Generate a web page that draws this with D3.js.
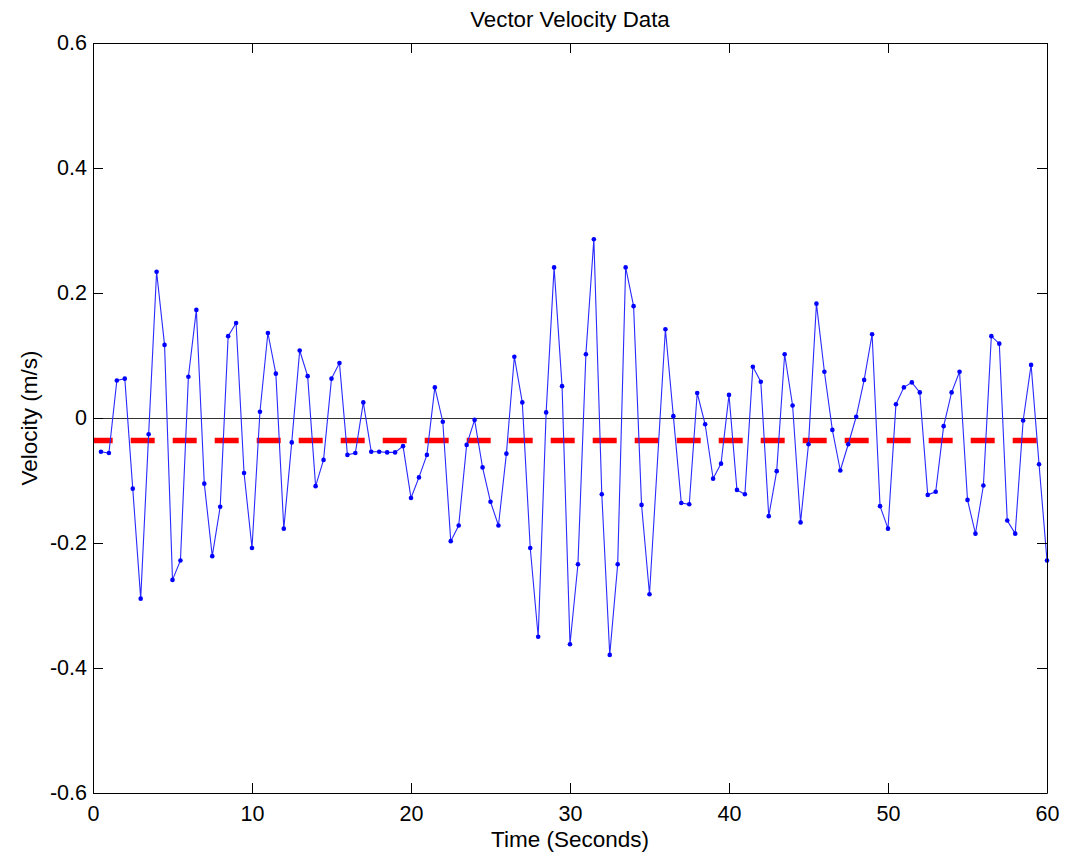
<!DOCTYPE html>
<html>
<head>
<meta charset="utf-8">
<script src="https://cdn.jsdelivr.net/npm/d3@7"></script>
<style>
  body { margin: 0; background: #fff; }
  svg { display: block; font-family: "Liberation Sans", Arial, sans-serif; }
  .axis path, .axis line { stroke: #000; }
</style>
</head>
<body>
<div id="chart"></div>
<script>
// sample times (s) - note there is no sample at 35.5 s in the source
var times = [
  0.5, 1, 1.5, 2, 2.5, 3, 3.5, 4, 4.5, 5, 5.5, 6, 6.5, 7, 7.5, 8, 8.5, 9, 9.5, 10,
  10.5, 11, 11.5, 12, 12.5, 13, 13.5, 14, 14.5, 15, 15.5, 16, 16.5, 17, 17.5, 18, 18.5, 19, 19.5, 20,
  20.5, 21, 21.5, 22, 22.5, 23, 23.5, 24, 24.5, 25, 25.5, 26, 26.5, 27, 27.5, 28, 28.5, 29, 29.5, 30,
  30.5, 31, 31.5, 32, 32.5, 33, 33.5, 34, 34.5, 35, 36, 36.5, 37, 37.5, 38, 38.5, 39, 39.5, 40,
  40.5, 41, 41.5, 42, 42.5, 43, 43.5, 44, 44.5, 45, 45.5, 46, 46.5, 47, 47.5, 48, 48.5, 49, 49.5, 50,
  50.5, 51, 51.5, 52, 52.5, 53, 53.5, 54, 54.5, 55, 55.5, 56, 56.5, 57, 57.5, 58, 58.5, 59, 59.5, 60
];

// velocity (m/s) at each sample
var velocity = [
  -0.054, -0.056, 0.060, 0.063, -0.113, -0.289, -0.026, 0.234, 0.117, -0.259,
  -0.228, 0.066, 0.173, -0.105, -0.221, -0.142, 0.131, 0.152, -0.088, -0.208,
  0.010, 0.136, 0.071, -0.177, -0.039, 0.108, 0.067, -0.109, -0.067, 0.063,
  0.088, -0.059, -0.056, 0.025, -0.054, -0.054, -0.055, -0.055, -0.045, -0.128,
  -0.095, -0.059, 0.049, -0.006, -0.197, -0.172, -0.043, -0.003, -0.079, -0.134,
  -0.172, -0.057, 0.098, 0.025, -0.208, -0.350, 0.009, 0.241, 0.051, -0.362,
  -0.234, 0.102, 0.286, -0.122, -0.379, -0.234, 0.241, 0.179, -0.139, -0.282,
  0.142, 0.003, -0.136, -0.138, 0.040, -0.010, -0.097, -0.073, 0.037,
  -0.115, -0.122, 0.082, 0.058, -0.157, -0.085, 0.102, 0.020, -0.167, -0.042,
  0.183, 0.074, -0.019, -0.084, -0.042, 0.002, 0.061, 0.134, -0.141, -0.177,
  0.022, 0.049, 0.057, 0.041, -0.123, -0.118, -0.013, 0.041, 0.074, -0.131,
  -0.185, -0.108, 0.131, 0.119, -0.164, -0.185, -0.004, 0.085, -0.074, -0.228
];

var meanVelocity = -0.036;

var xTicks = [0, 10, 20, 30, 40, 50, 60];
var yTicks = [-0.6, -0.4, -0.2, 0, 0.2, 0.4, 0.6];
var yTickLabels = ['-0.6', '-0.4', '-0.2', '0', '0.2', '0.4', '0.6'];

var chart = {};
chart.fullWidth = 1069;
chart.fullHeight = 852;
chart.margin = { top: 43, right: 22, bottom: 59, left: 93 };
chart.width = chart.fullWidth - chart.margin.left - chart.margin.right;
chart.height = chart.fullHeight - chart.margin.top - chart.margin.bottom;

var points = times.map(function(t, i) { return { t: t, v: velocity[i] }; });

chart.x = d3.scaleLinear().domain([0, 60]).range([0, chart.width]);
chart.y = d3.scaleLinear().domain([-0.6, 0.6]).range([chart.height, 0]);

var svg = d3.select('#chart').append('svg')
    .attr('width', chart.fullWidth)
    .attr('height', chart.fullHeight);

var vis = svg.append('g')
    .attr('transform', 'translate(' + chart.margin.left + ',' + chart.margin.top + ')');

// clip so the thick dashed line doesn't spill past the right edge
svg.append('defs').append('clipPath')
    .attr('id', 'plot-clip')
  .append('rect')
    .attr('x', -6)
    .attr('y', 0)
    .attr('width', chart.width + 6)
    .attr('height', chart.height);

// zero reference line
vis.append('line')
    .attr('x1', chart.x(0))
    .attr('x2', chart.x(60))
    .attr('y1', Math.round(chart.y(0)) + 0.5)
    .attr('y2', Math.round(chart.y(0)) + 0.5)
    .attr('stroke', '#333')
    .attr('stroke-width', 1);

// mean velocity (red dashed)
vis.append('line')
    .attr('clip-path', 'url(#plot-clip)')
    .attr('x1', chart.x(0))
    .attr('x2', chart.x(60))
    .attr('y1', chart.y(meanVelocity))
    .attr('y2', chart.y(meanVelocity))
    .attr('stroke', '#ff0000')
    .attr('stroke-width', 5.5)
    .attr('stroke-dasharray', '24,18')
    .attr('stroke-dashoffset', 4.3);

var line = d3.line()
    .x(function(d) { return chart.x(d.t); })
    .y(function(d) { return chart.y(d.v); });

vis.append('path')
    .datum(points)
    .attr('d', line)
    .attr('fill', 'none')
    .attr('stroke', '#2a2aff')
    .attr('stroke-width', 1.1);

vis.selectAll('circle.pt')
    .data(points)
  .enter().append('circle')
    .attr('class', 'pt')
    .attr('cx', function(d) { return chart.x(d.t); })
    .attr('cy', function(d) { return chart.y(d.v); })
    .attr('r', 2.3)
    .attr('fill', '#0000ff');

// axes, ticks pointing inwards on all four sides
var fmtY = function(d) { return yTickLabels[yTicks.indexOf(d)]; };

vis.append('g')
    .attr('class', 'axis')
    .attr('transform', 'translate(0,' + chart.height + ')')
    .call(d3.axisBottom(chart.x).tickValues(xTicks).tickSizeInner(-10).tickSizeOuter(0).tickPadding(13));

vis.append('g')
    .attr('class', 'axis')
    .call(d3.axisLeft(chart.y).tickValues(yTicks).tickFormat(fmtY).tickSizeInner(-10).tickSizeOuter(0).tickPadding(6));

vis.append('g')
    .attr('class', 'axis')
    .call(d3.axisTop(chart.x).tickValues(xTicks).tickSizeInner(-10).tickSizeOuter(0).tickFormat(''));

vis.append('g')
    .attr('class', 'axis')
    .attr('transform', 'translate(' + chart.width + ',0)')
    .call(d3.axisRight(chart.y).tickValues(yTicks).tickSizeInner(-10).tickSizeOuter(0).tickFormat(''));

vis.selectAll('.axis text')
    .attr('font-size', 21.5)
    .attr('font-family', '"Liberation Sans", Arial, sans-serif')
    .attr('fill', '#000');

// title and axis labels
svg.append('text')
    .attr('x', chart.margin.left + chart.width / 2)
    .attr('y', 27)
    .attr('text-anchor', 'middle')
    .attr('font-size', 22.3)
    .text('Vector Velocity Data');

svg.append('text')
    .attr('x', chart.margin.left + chart.width / 2)
    .attr('y', 847)
    .attr('text-anchor', 'middle')
    .attr('font-size', 22.5)
    .text('Time (Seconds)');

svg.append('text')
    .attr('transform', 'translate(37,' + (chart.margin.top + chart.height / 2) + ') rotate(-90)')
    .attr('text-anchor', 'middle')
    .attr('font-size', 22.5)
    .text('Velocity (m/s)');
</script>
</body>
</html>
